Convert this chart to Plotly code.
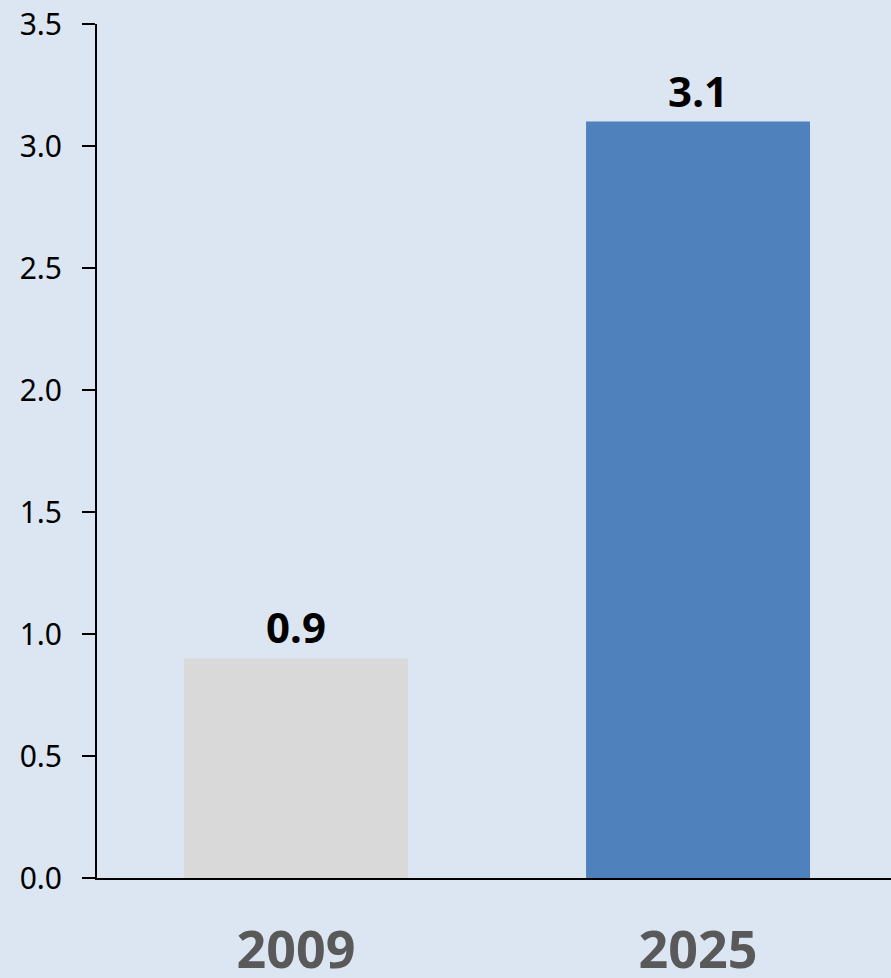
import plotly.graph_objects as go

categories = ["2009", "2025"]
values = [0.9, 3.1]
bar_colors = ["#D9D9D9", "#4F81BD"]
ytick_vals = [0, 0.5, 1.0, 1.5, 2.0, 2.5, 3.0, 3.5]
ytick_text = ["0.0", "0.5", "1.0", "1.5", "2.0", "2.5", "3.0", "3.5"]

fig = go.Figure(go.Bar(
    x=categories, y=values,
    marker=dict(color=bar_colors, line=dict(width=0)),
    width=0.557,
    text=[f"{v:.1f}" for v in values],
    textposition="outside",
    textfont=dict(family="Noto Sans", size=42, color="#000000", weight="bold"),
    cliponaxis=False,
))

fig.update_layout(
    width=891, height=978,
    margin=dict(l=97, r=0, t=24, b=100, autoexpand=False),
    paper_bgcolor="#DCE6F2", plot_bgcolor="#DCE6F2",
    showlegend=False,
    font=dict(family="Noto Sans"),
    xaxis=dict(
        type="category", range=[-0.495, 1.48],
        showline=True, linecolor="#000000", linewidth=2,
        showgrid=False, ticks="", automargin=False,
        tickfont=dict(family="Noto Sans", size=52, color="#595959", weight="bold"),
        ticklabelstandoff=26,
    ),
    yaxis=dict(
        range=[0, 3.5], automargin=False,
        tickvals=ytick_vals, ticktext=ytick_text,
        showline=True, linecolor="#000000", linewidth=2,
        showgrid=False, zeroline=False,
        ticks="outside", ticklen=13, tickwidth=2, tickcolor="#000000",
        tickfont=dict(family="Noto Sans", size=30, color="#000000"),
        ticklabelstandoff=14,
    ),
)

fig.write_html("out.html")
